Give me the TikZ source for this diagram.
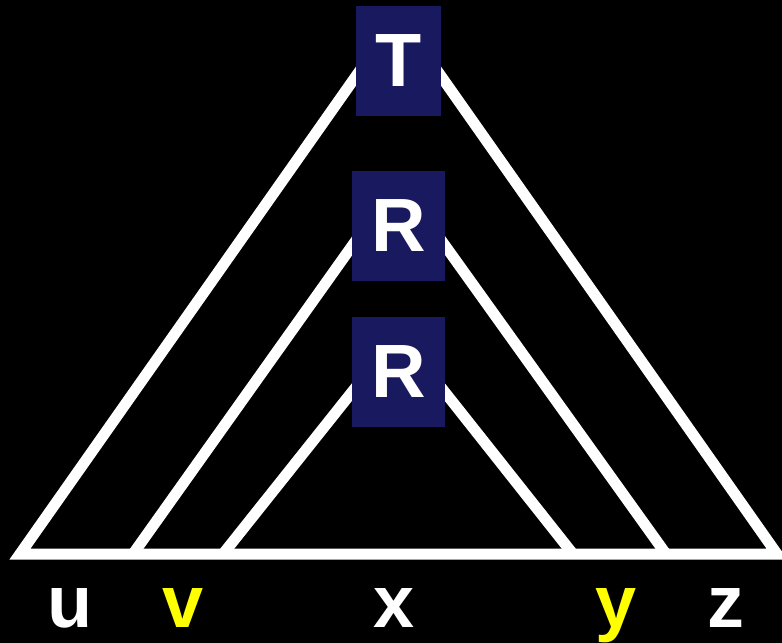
\documentclass[tikz,border=0pt]{standalone}
\usepackage{fontspec}
\setmainfont{Liberation Sans}
\usetikzlibrary{positioning,backgrounds}
\definecolor{treeblue}{RGB}{25,25,95}
\definecolor{pumpyellow}{RGB}{255,255,0}

\begin{document}
\begin{tikzpicture}[
    x=0.02cm, y=-0.02cm,
    sym/.style={rectangle, fill=treeblue, text=white, inner sep=0pt,
                minimum height=2.2cm, font=\fontsize{43}{43}\selectfont\bfseries},
    word/.style={anchor=base, text=white, font=\fontsize{42}{42}\selectfont\bfseries},
    part/.style={word, text=pumpyellow},
    edge/.style={white, line width=0.22cm, line join=miter}
]
\useasboundingbox (0,0) rectangle (782,643);
\node[sym, minimum width=1.7cm] (T) at (398.5,61) {T};
\node[sym, minimum width=1.86cm] (R1) at (398.5,226) {R};
\node[sym, minimum width=1.86cm] (R2) at (398.5,372) {R};
% feet of the triangles on the base line
\coordinate (a1) at (20,554);  \coordinate (a2) at (777,554);
\coordinate (b1) at (133,554); \coordinate (b2) at (666,554);
\coordinate (c1) at (223,554); \coordinate (c2) at (573,554);
\begin{pgfonlayer}{background}
\fill[black] (0,0) rectangle (782,643);
\draw[edge] ([yshift=-0.2cm]T.north) -- (a2) -- (a1) -- ([yshift=-0.2cm]T.north);
\draw[edge, line join=bevel] (b1) -- ([yshift=-0.2cm]R1.north) -- (b2);
\draw[edge, line join=bevel] (c1) -- ([yshift=-0.34cm]R2.north) -- (c2);
\end{pgfonlayer}
\node[word] (u) at (70.5,627) {u};
\node[part] (v) at (183,627) {v};
\node[word] (x) at (394,627) {x};
\node[part] (y) at (616,627) {y};
\node[word] (z) at (726,627) {z};
\end{tikzpicture}
\end{document}
